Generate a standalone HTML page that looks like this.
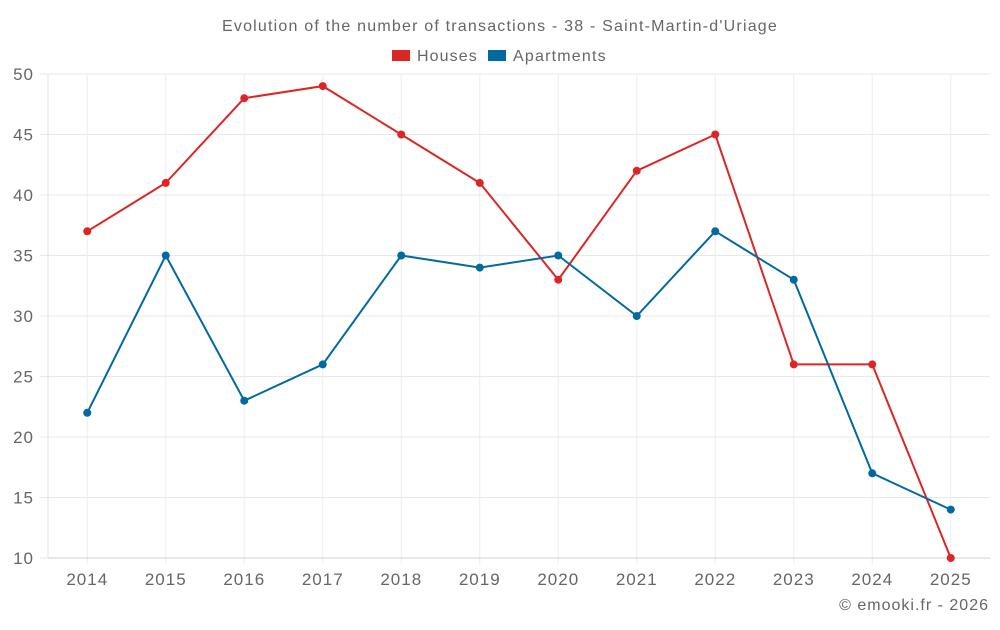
<!DOCTYPE html>
<html><head><meta charset="utf-8"><style>
body{margin:0;background:#fff;}
svg text{font-family:"Liberation Sans",sans-serif;fill:#666;}
</style></head><body>
<svg id="chart" width="1000" height="625" xmlns="http://www.w3.org/2000/svg">
<text x="500" y="31" text-anchor="middle" font-size="16" letter-spacing="1.2">Evolution of the number of transactions - 38 - Saint-Martin-d'Uriage</text>
<g>
<rect x="392" y="50" width="18" height="11" fill="#dc2626"/>
<text x="417" y="61" font-size="16" letter-spacing="1.1">Houses</text>
<rect x="488" y="50" width="18" height="11" fill="#0369a1"/>
<text x="513" y="61" font-size="16" letter-spacing="1.2">Apartments</text>
</g>
<g id="grid"></g><g id="axes"></g><g id="series"></g>
<text x="989" y="610" text-anchor="end" font-size="16" letter-spacing="1">© emooki.fr - 2026</text>
</svg>
<script>
const years=["2014","2015","2016","2017","2018","2019","2020","2021","2022","2023","2024","2025"];
const houses=[37,41,48,49,45,41,33,42,45,26,26,10];
const apartments=[22,35,23,26,35,34,35,30,37,33,17,14];
const yTicks=[10,15,20,25,30,35,40,45,50];
const L=48,R=990,T=74,B=558,yMin=10,yMax=50;
const bw=(R-L)/years.length;
const x=i=>L+bw*(i+0.5);
const y=v=>B-(v-yMin)/(yMax-yMin)*(B-T);
const NS="http://www.w3.org/2000/svg";
function mk(tag,attrs,parent){const e=document.createElementNS(NS,tag);for(const k in attrs)e.setAttribute(k,attrs[k]);document.getElementById(parent).appendChild(e);return e;}
yTicks.forEach(v=>{
 const g=mk('line',{x1:40,x2:R,y1:y(v),y2:y(v),stroke:'#e8e8e8','stroke-width':1},'grid');
 
 
 const t=mk('text',{x:34,y:y(v)+6,'text-anchor':'end','font-size':17,'letter-spacing':1},'axes');t.textContent=v;
 
 
});
years.forEach((yr,i)=>{
 const g=mk('line',{x1:x(i),x2:x(i),y1:T,y2:B+6,stroke:'#eeeeee','stroke-width':1},'grid');
 
 
 const t=mk('text',{x:x(i),y:585,'text-anchor':'middle','font-size':17,'letter-spacing':1},'axes');t.textContent=yr;
 
 
});
const ax=mk('line',{x1:L,x2:L,y1:T,y2:B,stroke:'#e0e0e0'},'axes');


const bx=mk('line',{x1:L,x2:R,y1:B,y2:B,stroke:'#d0d0d0'},'axes');


[[houses,'#dc2626','houses'],[apartments,'#0369a1','apartments']].forEach(([d,c,n])=>{
 const p=mk('polyline',{points:d.map((v,i)=>x(i)+','+y(v)).join(' '),fill:'none',stroke:c,'stroke-width':2},'series');
 
 
 d.forEach((v,i)=>{
  const ci=mk('circle',{cx:x(i),cy:y(v),r:4,fill:c},'series');
  
  
 });
});
</script>
</body></html>
